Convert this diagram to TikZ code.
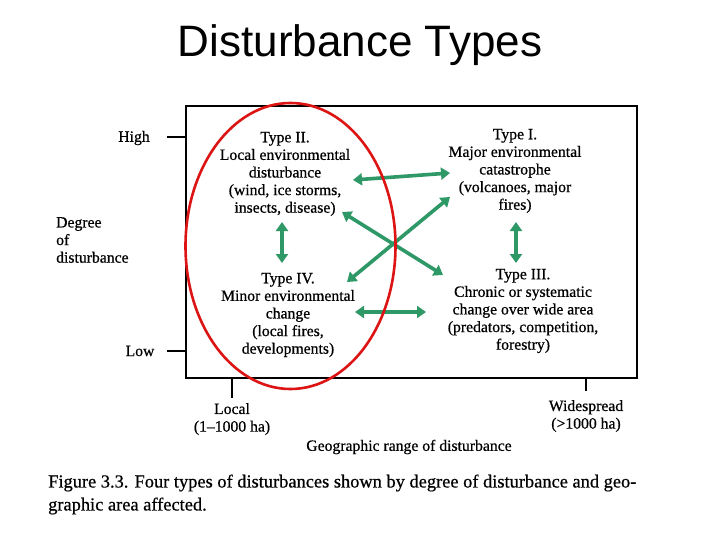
\documentclass[tikz,border=0pt]{standalone}
\usepackage{fontspec}
\setmainfont{Liberation Serif}
\newfontfamily\bookfont[FakeBold=0.6,Ligatures=TeX]{Liberation Serif}
\newfontfamily\titlefont{Liberation Sans}
\usetikzlibrary{arrows.meta}
\definecolor{arrgreen}{RGB}{46,152,102}
\definecolor{ellred}{RGB}{220,20,20}
\tikzset{
  typetext/.style={align=center, inner sep=1pt, font=\bookfont\fontsize{15.7}{17.6}\selectfont},
  lbl/.style={inner sep=1pt, font=\bookfont\fontsize{15.7}{17.6}\selectfont},
  garrow/.style={arrgreen, line width=3.6pt, {Triangle[length=9pt,width=12pt]}-{Triangle[length=9pt,width=12pt]}},
  axisline/.style={black, line width=1.6pt},
}
\begin{document}
\begin{tikzpicture}[x=1pt,y=-1pt]
\useasboundingbox (0,0) rectangle (720,540);
\fill[white] (0,0) rectangle (720,540);
% title
\node[font=\titlefont\fontsize{44}{46}\selectfont, inner sep=0pt] (title) at (360,45) {Disturbance Types};
% frame
\draw[axisline] (186,106) rectangle (637,378);
% ticks
\coordinate (hiA) at (167,137); \coordinate (hiB) at (186,137);
\coordinate (loA) at (167,351); \coordinate (loB) at (186,351);
\coordinate (lcA) at (232,378); \coordinate (lcB) at (232,398);
\coordinate (wsA) at (586,378); \coordinate (wsB) at (586,391);
\draw[axisline] (hiA) -- (hiB);
\draw[axisline] (loA) -- (loB);
\draw[axisline] (lcA) -- (lcB);
\draw[axisline] (wsA) -- (wsB);
% axis labels
\node[lbl] (high) at (134,138) {High};
\node[lbl] (low) at (140,351) {Low};
\node[lbl, align=left, anchor=west] (degree) at (55,240) {Degree\\of\\disturbance};
\node[lbl, align=center] (local) at (232,419) {Local\\(1–1000 ha)};
\node[lbl, align=center] (wide) at (586,416) {Widespread\\(>1000 ha)};
\node[lbl] (geo) at (409,447) {Geographic range of disturbance};
% type texts
\node[typetext] (t2) at (285,174) {Type II.\\Local environmental\\disturbance\\(wind, ice storms,\\insects, disease)};
\node[typetext] (t1) at (515,171) {Type I.\\Major environmental\\catastrophe\\(volcanoes, major\\fires)};
\node[typetext] (t4) at (288,315) {Type IV.\\Minor environmental\\change\\(local fires,\\developments)};
\node[typetext] (t3) at (523,311) {Type III.\\Chronic or systematic\\change over wide area\\(predators, competition,\\forestry)};
% arrows
\coordinate (a1s) at (353,180); \coordinate (a1e) at (450,173);
\coordinate (a2s) at (342,212); \coordinate (a2e) at (443,275);
\coordinate (a3s) at (347,282); \coordinate (a3e) at (450,197);
\coordinate (a4s) at (355,312); \coordinate (a4e) at (426,312);
\coordinate (a5s) at (282,222); \coordinate (a5e) at (282,263);
\coordinate (a6s) at (516,222); \coordinate (a6e) at (516,263);
\draw[garrow] (a1s) -- (a1e);
\draw[garrow] (a2s) -- (a2e);
\draw[garrow] (a3s) -- (a3e);
\draw[garrow] (a4s) -- (a4e);
\draw[garrow] (a5s) -- (a5e);
\draw[garrow] (a6s) -- (a6e);
% red ellipse
\draw[ellred, line width=2.6pt] (290.5,246) ellipse [x radius=105, y radius=143];
% caption
\node[anchor=west, inner sep=0pt, font=\bookfont\fontsize{18.4}{20}\selectfont] (cap1) at (48,483) {Figure 3.3. Four types of disturbances shown by degree of disturbance and geo-};
\node[anchor=west, inner sep=0pt, font=\bookfont\fontsize{18.4}{20}\selectfont] (cap2) at (48,506) {graphic area affected.};
\end{tikzpicture}
\end{document}
